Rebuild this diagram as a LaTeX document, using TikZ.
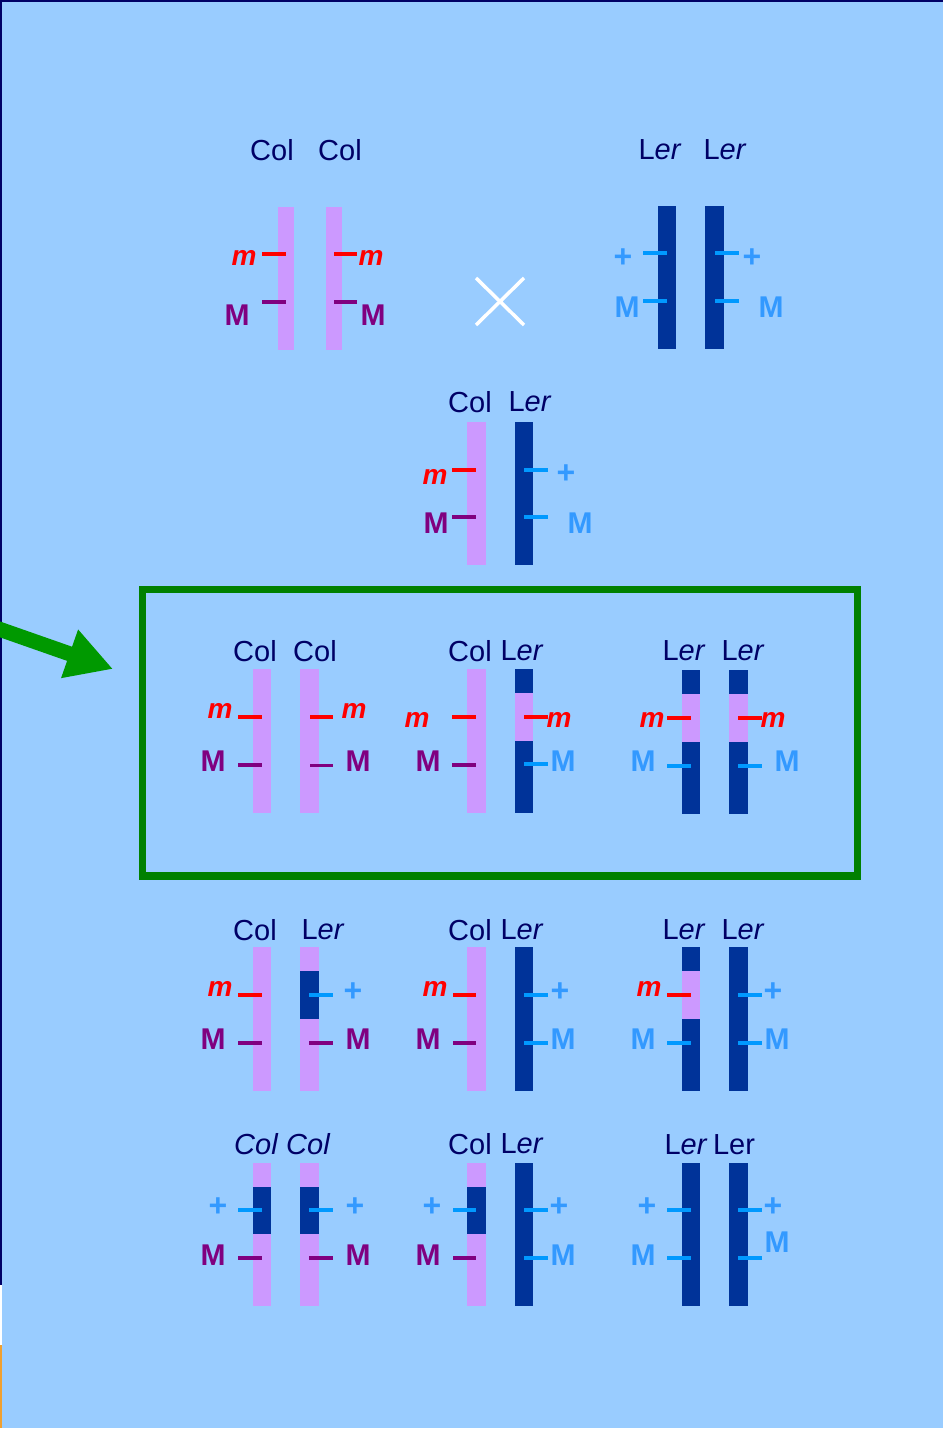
\documentclass[tikz,border=0pt]{standalone}
\usepackage{fontspec}
\setmainfont{Liberation Sans}
\usetikzlibrary{arrows.meta}
\definecolor{bg}{HTML}{99CCFF}
\definecolor{navy}{HTML}{000066}
\definecolor{chrP}{HTML}{CC99FF}
\definecolor{chrB}{HTML}{003399}
\definecolor{redm}{HTML}{FF0000}
\definecolor{purM}{HTML}{800080}
\definecolor{ltB}{HTML}{3399FF}
\definecolor{tickB}{HTML}{0099FF}
\definecolor{boxG}{HTML}{008000}
\definecolor{arrG}{HTML}{009900}
\definecolor{orng}{HTML}{F0A030}
\begin{document}
\begin{tikzpicture}[x=1pt,y=-1pt,
  strain/.style={text=navy,font=\fontsize{29}{29}\selectfont,inner sep=0pt},
  mlab/.style={text=redm,font=\fontsize{28}{28}\selectfont\bfseries\itshape,inner sep=0pt},
  Mlab/.style={text=purM,font=\fontsize{30}{30}\selectfont\bfseries,inner sep=0pt},
  MBlab/.style={text=ltB,font=\fontsize{30}{30}\selectfont\bfseries,inner sep=0pt},
  plab/.style={text=ltB,font=\fontsize{32}{32}\selectfont\bfseries,inner sep=0pt},
  tkR/.style={draw=redm,line width=4.3pt},
  tkP/.style={draw=purM,line width=4.3pt},
  tkB/.style={draw=tickB,line width=4.3pt},
  cP/.style={fill=chrP},
  cB/.style={fill=chrB},
]
\useasboundingbox (0,0) rectangle (943,1431);
% background
\fill[white] (0,0) rectangle (943,1431);
\fill[bg] (0,0) rectangle (943,1428);
\fill[navy] (0,0) rectangle (943,2);
\fill[navy] (0,0) rectangle (2,1285);
\fill[white] (0,1285) rectangle (2,1431);
\fill[orng] (0,1345) rectangle (2,1428);

% ---------- Row 1: parents ----------
\node[strain] (p1a) at (272,150) {Col};
\node[strain] (p1b) at (340,150) {Col};
\node[strain] (p2a) at (660,150) {L\textit{er}};
\node[strain] (p2b) at (725,150) {L\textit{er}};
\fill[cP] (278,207) rectangle (294,350);
\fill[cP] (326,207) rectangle (342,350);
\fill[cB] (658,206) rectangle (676,349);
\fill[cB] (705,206) rectangle (724,349);
\draw[tkR] (262,254) -- (286,254);
\draw[tkP] (262,302) -- (286,302);
\draw[tkR] (334,254) -- (357,254);
\draw[tkP] (334,302) -- (357,302);
\draw[tkB] (643,253) -- (667,253);
\draw[tkB] (643,301) -- (667,301);
\draw[tkB] (715,253) -- (739,253);
\draw[tkB] (715,301) -- (739,301);
\node[mlab] (r1m1) at (244,258) {m};
\node[Mlab] (r1M1) at (237,315) {M};
\node[mlab] (r1m2) at (371,258) {m};
\node[Mlab] (r1M2) at (373,315) {M};
\node[plab] (r1p3) at (623,258) {+};
\node[MBlab] (r1M3) at (627,307) {M};
\node[plab] (r1p4) at (752,258) {+};
\node[MBlab] (r1M4) at (771,307) {M};
\draw[white,line width=3.5pt] (476,278) -- (524,325) (476,325) -- (524,278);

% ---------- Row 2: F1 ----------
\node[strain] (f1a) at (470,402) {Col};
\node[strain] (f1b) at (530,402) {L\textit{er}};
\fill[cP] (467,422) rectangle (486,565);
\fill[cB] (515,422) rectangle (533,565);
\draw[tkR] (452,470) -- (476,470);
\draw[tkP] (452,517) -- (476,517);
\draw[tkB] (524,470) -- (548,470);
\draw[tkB] (524,517) -- (548,517);
\node[mlab] (r2m) at (435,477) {m};
\node[Mlab] (r2M) at (436,523) {M};
\node[plab] (r2p) at (566,474) {+};
\node[MBlab] (r2MB) at (580,523) {M};

% ---------- Green box and arrow ----------
\draw[boxG,line width=7.5pt] (142.5,589.5) rectangle (857.5,876);
\coordinate (arrS) at (-4,628);
\coordinate (arrE) at (113,669);
\draw[arrG,line width=15pt,-{Triangle[length=46pt,width=48pt]}] (arrS) -- (arrE);

% ---------- Row 3 (boxed) ----------
\node[strain] (g1a) at (255,651) {Col};
\node[strain] (g1b) at (315,651) {Col};
\node[strain] (g2a) at (470,651) {Col};
\node[strain] (g2b) at (522,651) {L\textit{er}};
\node[strain] (g3a) at (684,651) {L\textit{er}};
\node[strain] (g3b) at (743,651) {L\textit{er}};
\fill[cP] (253,669) rectangle (271,813);
\fill[cP] (300,669) rectangle (319,813);
\fill[cP] (467,669) rectangle (486,813);
\fill[cB] (515,669) rectangle (533,813);
\fill[cP] (515,693) rectangle (533,741);
\fill[cB] (682,670) rectangle (700,814);
\fill[cP] (682,694) rectangle (700,742);
\fill[cB] (729,670) rectangle (748,814);
\fill[cP] (729,694) rectangle (748,742);
\draw[tkR] (238,717) -- (262,717);
\draw[tkP] (238,765) -- (262,765);
\draw[tkR] (310,717) -- (333,717);
\draw[tkP,line width=3pt] (310,765) -- (333,765);
\draw[tkR] (452,717) -- (476,717);
\draw[tkP] (452,765) -- (476,765);
\draw[tkR] (524,717) -- (548,717);
\draw[tkB] (524,764) -- (548,764);
\draw[tkR] (667,718) -- (691,718);
\draw[tkB] (667,766) -- (691,766);
\draw[tkR] (738,718) -- (762,718);
\draw[tkB] (738,766) -- (762,766);
\node[mlab] (r3m1) at (220,711) {m};
\node[Mlab] (r3M1) at (213,761) {M};
\node[mlab] (r3m2) at (354,711) {m};
\node[Mlab] (r3M2) at (358,761) {M};
\node[mlab] (r3m3) at (417,720) {m};
\node[Mlab] (r3M3) at (428,761) {M};
\node[mlab] (r3m4) at (559,720) {m};
\node[MBlab] (r3M4) at (563,761) {M};
\node[mlab] (r3m5) at (652,720) {m};
\node[MBlab] (r3M5) at (643,761) {M};
\node[mlab] (r3m6) at (773,720) {m};
\node[MBlab] (r3M6) at (787,761) {M};

% ---------- Row 4 ----------
\node[strain] (h1a) at (255,930) {Col};
\node[strain] (h1b) at (323,930) {L\textit{er}};
\node[strain] (h2a) at (470,930) {Col};
\node[strain] (h2b) at (522,930) {L\textit{er}};
\node[strain] (h3a) at (684,930) {L\textit{er}};
\node[strain] (h3b) at (743,930) {L\textit{er}};
\fill[cP] (253,947) rectangle (271,1091);
\fill[cP] (300,947) rectangle (319,1091);
\fill[cB] (300,971) rectangle (319,1019);
\fill[cP] (467,947) rectangle (486,1091);
\fill[cB] (515,947) rectangle (533,1091);
\fill[cB] (682,947) rectangle (700,1091);
\fill[cP] (682,971) rectangle (700,1019);
\fill[cB] (729,947) rectangle (748,1091);
\draw[tkR] (238,995) -- (262,995);
\draw[tkP] (238,1043) -- (262,1043);
\draw[tkB] (309,995) -- (333,995);
\draw[tkP] (309,1043) -- (333,1043);
\draw[tkR] (453,995) -- (476,995);
\draw[tkP] (453,1043) -- (476,1043);
\draw[tkB] (524,995) -- (548,995);
\draw[tkB] (524,1043) -- (548,1043);
\draw[tkR] (667,995) -- (691,995);
\draw[tkB] (667,1043) -- (691,1043);
\draw[tkB] (738,995) -- (762,995);
\draw[tkB] (738,1043) -- (762,1043);
\node[mlab] (r4m1) at (220,989) {m};
\node[Mlab] (r4M1) at (213,1039) {M};
\node[plab] (r4p2) at (353,992) {+};
\node[Mlab] (r4M2) at (358,1039) {M};
\node[mlab] (r4m3) at (435,989) {m};
\node[Mlab] (r4M3) at (428,1039) {M};
\node[plab] (r4p4) at (560,992) {+};
\node[MBlab] (r4M4) at (563,1039) {M};
\node[mlab] (r4m5) at (649,989) {m};
\node[MBlab] (r4M5) at (643,1039) {M};
\node[plab] (r4p6) at (773,992) {+};
\node[MBlab] (r4M6) at (777,1039) {M};

% ---------- Row 5 ----------
\node[strain] (k1a) at (256,1144) {\itshape Col};
\node[strain] (k1b) at (308,1144) {\itshape Col};
\node[strain] (k2a) at (470,1144) {Col};
\node[strain] (k2b) at (522,1144) {L\textit{er}};
\node[strain] (k3a) at (686,1145) {L\textit{er}};
\node[strain] (k3b) at (734,1145) {Ler};
\fill[cP] (253,1163) rectangle (271,1306);
\fill[cB] (253,1187) rectangle (271,1234);
\fill[cP] (300,1163) rectangle (319,1306);
\fill[cB] (300,1187) rectangle (319,1234);
\fill[cP] (467,1163) rectangle (486,1306);
\fill[cB] (467,1187) rectangle (486,1234);
\fill[cB] (515,1163) rectangle (533,1306);
\fill[cB] (682,1163) rectangle (700,1306);
\fill[cB] (729,1163) rectangle (748,1306);
\draw[tkB] (238,1210) -- (262,1210);
\draw[tkP] (238,1258) -- (262,1258);
\draw[tkB] (309,1210) -- (333,1210);
\draw[tkP] (309,1258) -- (333,1258);
\draw[tkB] (453,1210) -- (476,1210);
\draw[tkP] (453,1258) -- (476,1258);
\draw[tkB] (524,1210) -- (548,1210);
\draw[tkB] (524,1258) -- (548,1258);
\draw[tkB] (667,1210) -- (691,1210);
\draw[tkB] (667,1258) -- (691,1258);
\draw[tkB] (738,1210) -- (762,1210);
\draw[tkB] (738,1258) -- (762,1258);
\node[plab] (r5p1) at (218,1207) {+};
\node[Mlab] (r5M1) at (213,1255) {M};
\node[plab] (r5p2) at (355,1207) {+};
\node[Mlab] (r5M2) at (358,1255) {M};
\node[plab] (r5p3) at (432,1207) {+};
\node[Mlab] (r5M3) at (428,1255) {M};
\node[plab] (r5p4) at (559,1207) {+};
\node[MBlab] (r5M4) at (563,1255) {M};
\node[plab] (r5p5) at (647,1207) {+};
\node[MBlab] (r5M5) at (643,1255) {M};
\node[plab] (r5p6) at (773,1207) {+};
\node[MBlab] (r5M6) at (777,1242) {M};
\end{tikzpicture}
\end{document}
